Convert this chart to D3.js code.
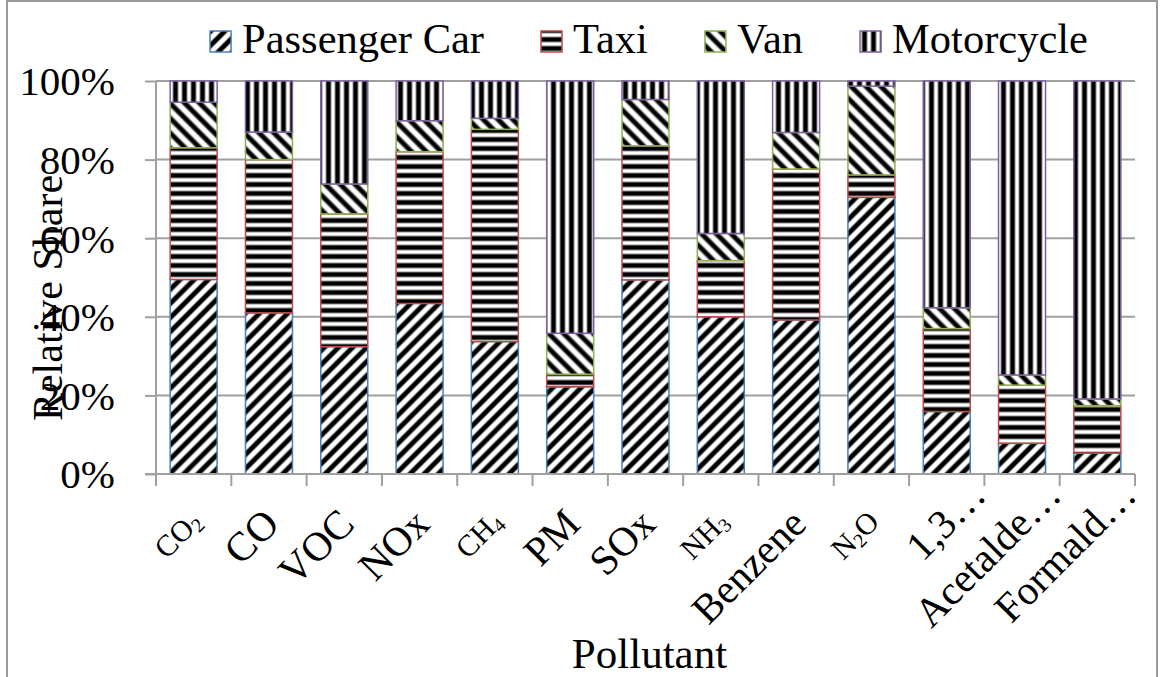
<!DOCTYPE html>
<html><head><meta charset="utf-8">
<script src="https://cdn.jsdelivr.net/npm/d3@7"></script>
<style>html,body{margin:0;padding:0;background:#fff;}svg{display:block;} svg text{font-family:"Liberation Serif","Times New Roman",serif;}</style>
</head><body>
<svg id="chart" width="1160" height="677"></svg>
<script>
const categories = ["CO2","CO","VOC","NOx","CH4","PM","SOx","NH3","Benzene","N2O","1,3-Butadiene","Acetaldehyde","Formaldehyde"];
const tickLabels = ["CO_2","CO","VOC","NOx","CH_4","PM","SOx","NH_3","Benzene","N_2O","1,3…","Acetalde…","Formald…"];
const seriesNames = ["Passenger Car","Taxi","Van","Motorcycle"];
const passengerCar = [49.5, 41.0, 32.4, 43.4, 33.7, 22.2, 49.4, 40.0, 39.2, 70.4, 15.9, 7.8, 5.3];
const taxi         = [33.5, 39.0, 33.8, 38.6, 54.0, 3.2, 34.1, 14.3, 38.4, 5.7, 21.1, 14.8, 12.1];
const van          = [11.6, 7.0, 7.6, 7.9, 2.8, 10.4, 11.8, 6.9, 9.3, 22.6, 5.3, 2.6, 1.7];
const motorcycle   = [5.4, 13.0, 26.2, 10.1, 9.5, 64.2, 4.7, 38.8, 13.1, 1.3, 57.7, 74.8, 80.9];
const yTicks = [0, 20, 40, 60, 80, 100];

const seriesValues = [passengerCar, taxi, van, motorcycle];
const borderColors = ["#4A7EBB", "#BE4B48", "#8FB050", "#7D60A0"];
const patternIds = ["pPC", "pTaxi", "pVan", "pMoto"];

const svg = d3.select("#chart");
const FONT = "'Liberation Serif','Times New Roman',serif";
const margin = {left: 156, right: 25, top: 81, bottom: 203};
const W = 1160, H = 677;
const x0 = margin.left, x1 = W - margin.right; // 156..1135
const y0 = H - margin.bottom, y1 = margin.top;  // 474..81

// outer border
svg.append("rect").attr("x", 7).attr("y", 1).attr("width", 1150).attr("height", 690)
  .attr("fill", "#fff").attr("stroke", "#9a9a9a").attr("stroke-width", 2);

// patterns
const defs = svg.append("defs");
function stripePattern(id, period, rotate) {
  const p = defs.append("pattern").attr("id", id).attr("patternUnits", "userSpaceOnUse")
    .attr("width", period).attr("height", period);
  if (rotate !== null) p.attr("patternTransform", `rotate(${rotate})`);
  p.append("rect").attr("width", period).attr("height", period).attr("fill", "#fff");
  p.append("rect").attr("x", period/2 - 3).attr("width", 6).attr("y", 0).attr("height", period).attr("fill", "#8a8a8a");
  p.append("rect").attr("x", period/2 - 2).attr("width", 4).attr("y", 0).attr("height", period).attr("fill", "#000");
}
stripePattern("pPC", 10, 45);
stripePattern("pTaxi", 9, 90);
stripePattern("pVan", 10.5, -45);
stripePattern("pMoto", 9, 0);

const x = d3.scaleBand().domain(categories).range([x0, x1]).paddingInner(0.376).paddingOuter(0.188);
const xStep = d3.scaleBand().domain(categories).range([x0, x1]).padding(0);
const y = d3.scaleLinear().domain([0, 100]).range([y0, y1]);

// gridlines
svg.append("g").selectAll("line").data(yTicks.filter(d => d > 0)).join("line")
  .attr("x1", x0).attr("x2", x1).attr("y1", d => y(d)).attr("y2", d => y(d))
  .attr("stroke", "#a0a0a0").attr("stroke-width", 2);

// y axis
const yAxis = svg.append("g").attr("transform", `translate(${x0},0)`)
  .call(d3.axisLeft(y).tickValues(yTicks).tickSize(11).tickFormat(d => d + "%").tickPadding(30));
yAxis.attr("font-family", null).attr("font-size", null);
yAxis.select(".domain").attr("stroke", "#a0a0a0").attr("stroke-width", 2).attr("d", `M0,${y0}V${y1}`);
yAxis.selectAll(".tick line").attr("stroke", "#a0a0a0").attr("stroke-width", 2);
yAxis.selectAll(".tick text").style("font-family", FONT).style("font-size", "41px").attr("fill", "#000").attr("dy", "0.34em");

// stacked data
const rows = categories.map((c, i) => {
  const r = {cat: c};
  seriesNames.forEach((s, k) => r[s] = seriesValues[k][i]);
  return r;
});
const stack = d3.stack().keys(seriesNames)(rows);

svg.append("g").selectAll("g").data(stack).join("g")
  .attr("fill", (d, k) => `url(#${patternIds[k]})`)
  .attr("stroke", (d, k) => borderColors[k]).attr("stroke-width", 1.5)
  .selectAll("rect").data(d => d).join("rect")
  .attr("x", d => x(d.data.cat)).attr("width", x.bandwidth())
  .attr("y", d => y(d[1])).attr("height", d => y(d[0]) - y(d[1]));

// x axis
const xAxisG = svg.append("g").attr("transform", `translate(0,${y0})`);
xAxisG.append("line").attr("x1", x0 - 11).attr("x2", x1).attr("y1", 0).attr("y2", 0)
  .attr("stroke", "#a0a0a0").attr("stroke-width", 2);
const bounds = categories.map(c => xStep(c)).concat([x1]);
xAxisG.selectAll("line.tk").data(bounds).join("line").attr("class", "tk")
  .attr("x1", d => d).attr("x2", d => d).attr("y1", 0).attr("y2", 12)
  .attr("stroke", "#a0a0a0").attr("stroke-width", 2);

// x tick labels (rotated)
tickLabels.forEach((lab, i) => {
  const cx = xStep(categories[i]) + xStep.bandwidth() / 2 + 2;
  const cy = y0 + 42;
  const hasSub = lab.includes("_");
  const fs = hasSub ? 30 : 41;
  const ell = lab.endsWith("…");
  const main = ell ? lab.slice(0, -1) : lab;
  const g = svg.append("g").attr("transform", `translate(${cx},${cy}) rotate(-45)`);
  const t = g.append("text").attr("text-anchor", "end").style("font-family", FONT)
    .style("font-size", fs + "px").attr("dy", "0.35em").attr("fill", "#000");
  const parts = main.split(/_(\d)/);
  parts.forEach((p, j) => {
    if (!p) return;
    if (j % 2 === 1) {
      t.append("tspan").style("font-size", (fs * 0.66) + "px").attr("baseline-shift", "-22%").text(p);
    } else {
      t.append("tspan").text(p);
    }
  });
  if (ell) {
    g.append("text").attr("text-anchor", "start").style("font-family", FONT)
      .style("font-size", fs + "px").attr("dy", "0.35em").attr("fill", "#000").text("…");
  }
});

// axis titles
svg.append("text").attr("x", (x0 + x1) / 2 + 4).attr("y", 668).attr("text-anchor", "middle")
  .style("font-family", FONT).style("font-size", "43px").attr("fill", "#000").text("Pollutant");
svg.append("text").attr("transform", `translate(62,298) rotate(-90)`).attr("text-anchor", "middle")
  .style("font-family", FONT).style("font-size", "42px").attr("fill", "#000").text("Relative Share");

// legend
const legend = svg.append("g");
let lx = 0;
seriesNames.forEach((s, k) => {
  const g = legend.append("g");
  g.append("rect").attr("x", 0).attr("y", -22).attr("width", 21).attr("height", 21)
    .attr("fill", `url(#${patternIds[k]})`).attr("stroke", borderColors[k]).attr("stroke-width", 1.5);
  const t = g.append("text").attr("x", 32).attr("y", 0).style("font-family", FONT)
    .style("font-size", "42.5px").attr("fill", "#000").text(s);
  const w = 32 + t.node().getComputedTextLength();
  g.attr("transform", `translate(${lx},0)`);
  lx += w + 57;
});
const totalW = lx - 57;
legend.attr("transform", `translate(${649 - totalW / 2},53)`);
</script>
</body></html>
